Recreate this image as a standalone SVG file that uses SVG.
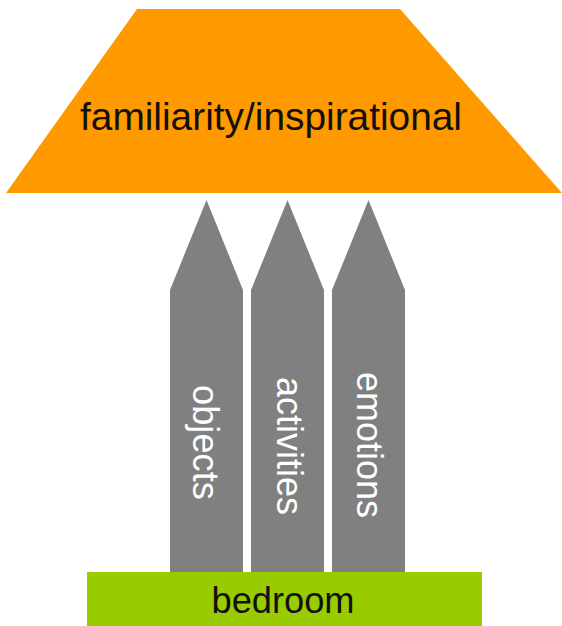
<svg xmlns="http://www.w3.org/2000/svg" width="562" height="626" viewBox="0 0 562 626">
  <style>
    .lbl { font-family: "Liberation Sans", Arial, sans-serif; }
    .pillar { fill: #808080; }
    .pillar-text { fill: #ffffff; font-size: 37px; text-anchor: middle; }
  </style>
  <rect width="562" height="626" fill="#ffffff"/>

  <g id="roof">
    <polygon points="137,9 400,9 562,193 6,193" fill="#ff9900"/>
    <text class="lbl" x="271" y="130" font-size="39" text-anchor="middle" textLength="382" lengthAdjust="spacingAndGlyphs" fill="#111111">familiarity/inspirational</text>
  </g>

  <g id="connectors">
    <g id="objects">
      <polygon class="pillar" points="206.5,200 243,290 243,575 170,575 170,290"/>
      <text class="lbl pillar-text" transform="translate(193,442.5) rotate(90)" textLength="115" lengthAdjust="spacingAndGlyphs">objects</text>
    </g>
    <g id="activities">
      <polygon class="pillar" points="287.5,200 324,290 324,575 251,575 251,290"/>
      <text class="lbl pillar-text" transform="translate(277,446) rotate(90)" textLength="138" lengthAdjust="spacingAndGlyphs">activities</text>
    </g>
    <g id="emotions">
      <polygon class="pillar" points="368.5,200 405,290 405,575 332,575 332,290"/>
      <text class="lbl pillar-text" transform="translate(357,445) rotate(90)" textLength="146" lengthAdjust="spacingAndGlyphs">emotions</text>
    </g>
  </g>

  <g id="bedroom">
    <rect x="87" y="572" width="395" height="54" fill="#99cc00"/>
    <text class="lbl" x="283" y="613" font-size="36" text-anchor="middle" textLength="143" lengthAdjust="spacingAndGlyphs" fill="#111111">bedroom</text>
  </g>
</svg>
